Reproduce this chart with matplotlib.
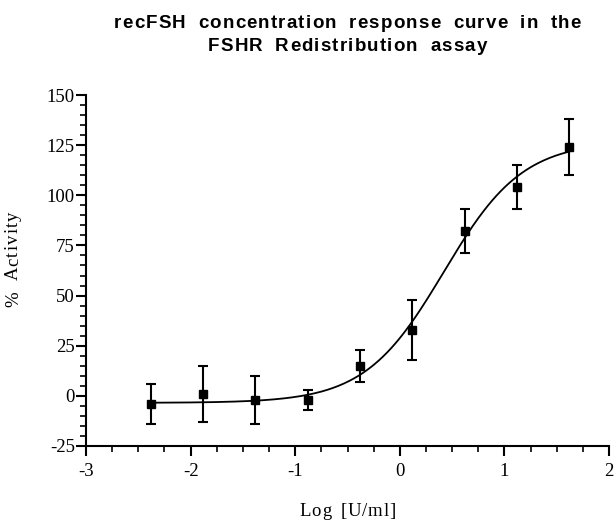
import numpy as np
import matplotlib
matplotlib.use("Agg")
import matplotlib.pyplot as plt
from matplotlib.ticker import MultipleLocator
from matplotlib.font_manager import FontProperties
from matplotlib.transforms import IdentityTransform

plt.rcParams["axes.unicode_minus"] = False

# Data
log_conc = [-2.38, -1.88, -1.38, -0.88, -0.38, 0.12, 0.62, 1.12, 1.62]
activity = [-4, 1, -2, -2, 15, 33, 82, 104, 124]
sem = [10, 14, 12, 5, 8, 15, 11, 11, 14]

# Fitted 4-parameter logistic parameters
fit_bottom = -3.5
fit_top = 127.0
fit_log_ec50 = 0.42
fit_hill = 1.15

title_lines = ["recFSH concentration response curve in the", "FSHR Redistribution assay"]
xlabel = "Log [U/ml]"
ylabel = "% Activity"

W, H = 616, 522
fig = plt.figure(figsize=(W / 100, H / 100), dpi=100)
ax = fig.add_axes([86/W, 1-446/H, (609-86)/W, (446-95)/H])

xs = np.linspace(min(log_conc), max(log_conc), 300)
ys = fit_bottom + (fit_top - fit_bottom) / (1 + 10 ** ((fit_log_ec50 - xs) * fit_hill))
ax.plot(xs, ys, color="black", lw=1.3, zorder=2)

ax.errorbar(log_conc, activity, yerr=sem, fmt="s", color="black", ms=6,
            ecolor="black", elinewidth=1.5, capsize=3.3, capthick=1.5, zorder=3)

ax.set_xlim(-3, 2)
ax.set_ylim(-25, 150)
ax.xaxis.set_major_locator(MultipleLocator(1))
ax.xaxis.set_minor_locator(MultipleLocator(0.25))
ax.yaxis.set_major_locator(MultipleLocator(25))
ax.yaxis.set_minor_locator(MultipleLocator(5))
for s in ["top", "right"]:
    ax.spines[s].set_visible(False)
for s in ["left", "bottom"]:
    ax.spines[s].set_linewidth(1.5)
ax.tick_params(which="major", direction="out", length=7, width=1.5, labelsize=13.5)
ax.tick_params(axis="y", which="major", pad=1)
ax.tick_params(axis="x", which="major", pad=5.5)
ax.tick_params(which="minor", direction="out", length=4.3, width=1.2)
for lab in ax.get_xticklabels() + ax.get_yticklabels():
    lab.set_fontfamily("Liberation Serif")

renderer = fig.canvas.get_renderer()


def tracked_text(text, center, baseline, prop, tracking, word_extra, vertical=False):
    """Draw text with extra letter / word spacing (pixels), centred along its direction."""
    def width(s):
        return renderer.get_text_width_height_descent(s, prop, ismath=False)[0]
    wx = width("x")
    offsets = []
    extra = 0.0
    for i, ch in enumerate(text):
        offsets.append(width(text[:i] + "x") - wx + tracking * i + extra)
        if ch == " ":
            extra += word_extra
    total = offsets[-1] + width(text[-1])
    start = center - total / 2
    for i, ch in enumerate(text):
        if ch == " ":
            continue
        pos = start + offsets[i]
        if vertical:
            fig.text(baseline, pos, ch, fontproperties=prop, transform=IdentityTransform(),
                     rotation=90, rotation_mode="anchor", ha="left", va="baseline")
        else:
            fig.text(pos, baseline, ch, fontproperties=prop, transform=IdentityTransform(),
                     ha="left", va="baseline")


title_prop = FontProperties(family="Liberation Sans", weight="bold", size=13.5)
label_prop = FontProperties(family="Liberation Serif", size=13.5)

axes_cx = (86 + 609) / 2
tracked_text(title_lines[0], axes_cx, H - 28, title_prop, 1.2, 5)
tracked_text(title_lines[1], axes_cx, H - 51, title_prop, 1.2, 5)
tracked_text(xlabel, axes_cx, H - 516, label_prop, 0.8, 3)
tracked_text(ylabel, H - 259, 18, label_prop, 1.2, 4, vertical=True)

fig.savefig("out.png", dpi=100)
